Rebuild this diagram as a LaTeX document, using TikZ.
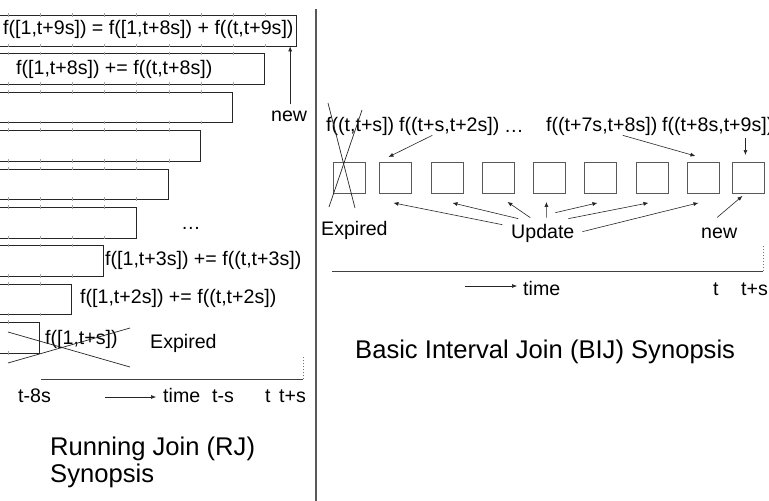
\documentclass[tikz,border=0pt]{standalone}
\usepackage{fontspec}
\setmainfont{Liberation Sans}
\usetikzlibrary{arrows.meta,calc}
\begin{document}
\begin{tikzpicture}[x=1pt,y=-1pt,
  lbl/.style={inner sep=0pt, font=\fontsize{19.6}{22}\selectfont},
  ttl/.style={inner sep=0pt, font=\fontsize{25.6}{30}\selectfont},
  barbox/.style={draw=black!85, line width=0.9pt, fill=white, inner sep=0pt, anchor=north west},
  slot/.style={draw=black!65, line width=0.9pt, minimum width=32pt, minimum height=31pt, inner sep=0pt, anchor=north west},
  arr/.style={-{Latex[length=5pt,width=4pt]}, line width=0.6pt, draw=black!85},
  tickmark/.style={draw=black!35, line width=0.6pt},
  axisline/.style={draw=black!75, line width=0.9pt},
  dotline/.style={draw=black!55, line width=0.8pt, dash pattern=on 1.5pt off 1.5pt},
  crossline/.style={draw=black!85, line width=0.7pt}
]
\useasboundingbox (0,0) rectangle (769,501);
\clip (0,0) rectangle (769,501);
\fill[white] (0,0) rectangle (769,501);

% ---------------- left panel: running join bars ----------------
\foreach \i in {1,...,9} {
  \pgfmathsetmacro\bartop{15+38.4*(\i-1)}
  \pgfmathsetmacro\barw{296-32.1*(\i-1)+3}
  \pgfmathtruncatemacro\kmax{9-\i}
  \node[barbox, minimum width=\barw pt, minimum height=30.5pt] (b\i) at (-3,\bartop) {};
  \foreach \k in {0,...,\kmax} {
    \pgfmathsetmacro\tx{8.3+32.1*\k}
    \draw[tickmark] (\tx,\bartop-1.8) -- (\tx,\bartop+1.8);
    \draw[tickmark] (\tx,\bartop+28.7) -- (\tx,\bartop+32.3);
  }
}

\node[lbl, anchor=west] (t1) at (3,29.5) {f([1,t+9s]) = f([1,t+8s]) + f((t,t+9s])};
\node[lbl, anchor=west] (t2) at (16,69) {f([1,t+8s]) += f((t,t+8s])};
\node[lbl, anchor=base west] (dotsL) at (181,229) {…};
\node[lbl, anchor=west] (t7) at (105,260.5) {f([1,t+3s]) += f((t,t+3s])};
\node[lbl, anchor=west] (t8) at (80,298.5) {f([1,t+2s]) += f((t,t+2s])};
\node[lbl, anchor=west] (t9) at (45,339) {f([1,t+s])};
\node[lbl, anchor=west] (exL) at (150,343) {Expired};
\node[lbl, anchor=west] (newL) at (271,116) {new};
\draw[arr] ($(newL.north)+(1,-6)$) -- ($(newL.north |- b1.south)+(1,0)$);

% cross over expired bar
\coordinate (xa1) at (8,332);
\coordinate (xa2) at (130,367);
\coordinate (xb1) at (8,363);
\coordinate (xb2) at (130,328);
\draw[crossline] (xa1) -- (xa2);
\draw[crossline] (xb1) -- (xb2);

% left time axis
\coordinate (axL0) at (41,379);
\coordinate (axL1) at (303,379);
\coordinate (axL2) at (303,357);
\draw[axisline] (axL0) -- (axL1);
\draw[dotline] (axL1) -- (axL2);
\node[lbl, anchor=base west] (t8s) at (18,402) {t-8s};
\node[lbl, anchor=base west] (timeL) at (163,402) {time};
\node[lbl, anchor=base west] (tsL) at (212,402) {t-s};
\node[lbl, anchor=base west] (tL) at (265,402) {t};
\node[lbl, anchor=base west] (tpsL) at (279,402) {t+s};
\draw[arr] ($(timeL.west)+(-58,2)$) -- ($(timeL.west)+(-7,2)$);

\node[ttl, anchor=base west] (rj1) at (50,455) {Running Join (RJ)};
\node[ttl, anchor=base west] (rj2) at (50,482) {Synopsis};

% divider
\coordinate (dv0) at (316,9);
\coordinate (dv1) at (316,501);
\draw[draw=black!65, line width=1.4pt] (dv0) -- (dv1);

% ---------------- right panel: basic interval join ----------------
\foreach \i/\xx in {1/333,2/379,3/431,4/482,5/533,6/584,7/636,8/687,9/732} {
  \node[slot] (r\i) at (\xx,162) {};
}

\node[lbl, anchor=west] (fa) at (326,126) {f((t,t+s])};
\node[lbl, anchor=west] (fb) at (399,126) {f((t+s,t+2s])};
\node[lbl, anchor=base west] (fc) at (504,132) {…};
\node[lbl, anchor=west] (fd) at (546,126) {f((t+7s,t+8s])};
\node[lbl, anchor=west] (fe) at (662,126) {f((t+8s,t+9s])};

\draw[arr] ($(fb.south)+(-17,0)$) -- ($(r2.north)+(-7,-5)$);
\draw[arr] ($(fd.south)+(21,0)$) -- ($(r8.north)+(-8,-6)$);
\draw[arr] ($(fe.south -| r9.north)+(-3,3)$) -- ($(r9.north)+(-3,-7)$);

% cross over expired slot
\coordinate (ya1) at (328,103);
\coordinate (ya2) at (355,208);
\coordinate (yb1) at (362,110);
\coordinate (yb2) at (329,207);
\draw[crossline] (ya1) -- (ya2);
\draw[crossline] (yb1) -- (yb2);

\node[lbl, anchor=west] (exR) at (321,230) {Expired};
\node[lbl, anchor=west] (upd) at (511,233) {Update};
\node[lbl, anchor=west] (newR) at (701,233) {new};

\draw[arr] ($(upd.north)+(-40.5,1)$) -- ($(r2.south)+(-2,9)$);
\draw[arr] ($(upd.north)+(-24.5,-5)$) -- ($(r3.south)+(5,9)$);
\draw[arr] ($(upd.north)+(-12.5,-6)$) -- ($(r4.south)+(9,8)$);
\draw[arr] ($(upd.north)+(3.5,-6)$) -- ($(r5.south)+(-3,8)$);
\draw[arr] ($(upd.north)+(12.5,-11)$) -- ($(r6.south)+(-3,9)$);
\draw[arr] ($(upd.north)+(25.5,-5)$) -- ($(r7.south)+(-4,9)$);
\draw[arr] ($(upd.north)+(39.5,8)$) -- ($(r8.south)+(-5,9)$);
\draw[arr] ($(newR.north)+(-2,-10)$) -- ($(r9.south)+(-6,2)$);

% right time axis
\coordinate (axR0) at (332,271);
\coordinate (axR1) at (763,271);
\coordinate (axR2) at (763,246);
\draw[axisline] (axR0) -- (axR1);
\draw[dotline] (axR1) -- (axR2);
\node[lbl, anchor=base west] (timeR) at (523,295) {time};
\node[lbl, anchor=base west] (tR) at (713,295) {t};
\node[lbl, anchor=base west] (tpsR) at (741,295) {t+s};
\draw[arr] ($(timeR.west)+(-58,-2)$) -- ($(timeR.west)+(-6,-2)$);

\node[ttl, anchor=base west] (bij) at (355,358) {Basic Interval Join (BIJ) Synopsis};
\end{tikzpicture}
\end{document}
